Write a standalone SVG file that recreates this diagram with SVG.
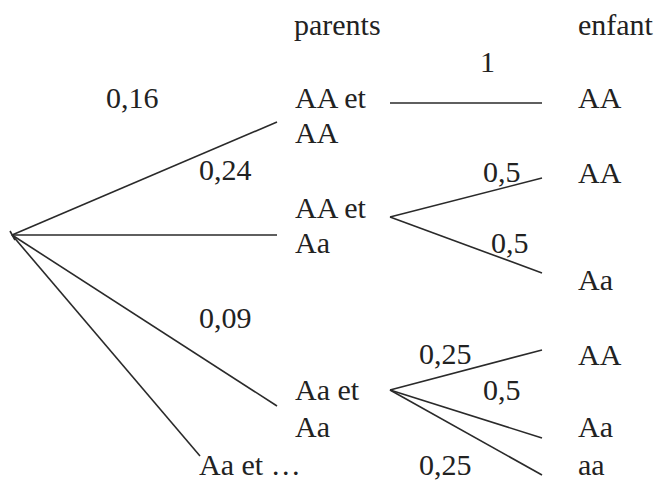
<svg xmlns="http://www.w3.org/2000/svg" width="660" height="482" viewBox="0 0 660 482">
<style>
text{font-family:"Liberation Serif","Times New Roman",serif;font-size:30px;fill:#222}
.l{stroke:#2a2a2a;stroke-width:1.6;fill:none}
</style>
<rect width="660" height="482" fill="#fff"/>
<g id="connectors">
<line class="l" x1="12" y1="235" x2="277" y2="122"/>
<line class="l" x1="12" y1="235" x2="277" y2="235"/>
<line class="l" x1="12" y1="235" x2="277" y2="406"/>
<line class="l" x1="12" y1="235" x2="200" y2="456"/>
<line class="l" x1="10" y1="231" x2="15" y2="240"/>
<line class="l" x1="390" y1="103" x2="542" y2="103"/>
<line class="l" x1="390" y1="217" x2="542" y2="178"/>
<line class="l" x1="390" y1="217" x2="542" y2="273"/>
<line class="l" x1="390" y1="390" x2="542" y2="350"/>
<line class="l" x1="390" y1="390" x2="542" y2="438"/>
<line class="l" x1="390" y1="390" x2="542" y2="475"/>
</g>
<g id="headers">
<text x="294" y="35">parents</text>
<text x="578" y="35">enfant</text>
</g>
<g id="probabilities">
<text x="106" y="108">0,16</text>
<text x="199" y="180">0,24</text>
<text x="199" y="328">0,09</text>
<text x="480" y="72">1</text>
<text x="483" y="182">0,5</text>
<text x="491" y="253">0,5</text>
<text x="419" y="364">0,25</text>
<text x="483" y="400">0,5</text>
<text x="419" y="475">0,25</text>
</g>
<g id="parent1"><text x="295" y="108">AA et</text><text x="295" y="143">AA</text></g>
<g id="parent2"><text x="295" y="218">AA et</text><text x="295" y="253">Aa</text></g>
<g id="parent3"><text x="295" y="400">Aa et</text><text x="295" y="437">Aa</text></g>
<g id="parent4"><text x="199" y="475">Aa et …</text></g>
<g id="child1"><text x="578" y="108">AA</text></g>
<g id="child2"><text x="578" y="183">AA</text></g>
<g id="child3"><text x="578" y="290">Aa</text></g>
<g id="child4"><text x="578" y="365">AA</text></g>
<g id="child5"><text x="578" y="437">Aa</text></g>
<g id="child6"><text x="578" y="475">aa</text></g>
</svg>
